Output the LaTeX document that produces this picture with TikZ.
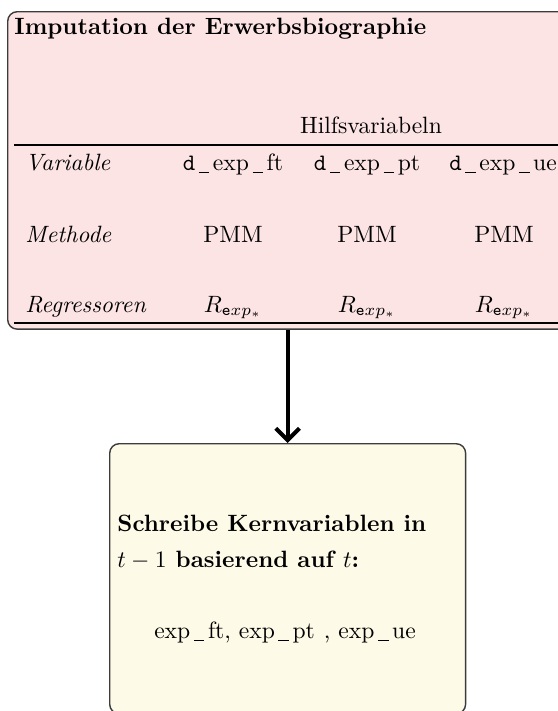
\documentclass[tikz,border=0pt]{standalone}
\usetikzlibrary{arrows.meta}
\definecolor{pinkfill}{RGB}{253,228,228}
\definecolor{creamfill}{RGB}{254,250,232}
\definecolor{boxline}{RGB}{60,60,60}
\newcommand\usc{\kern0.15em\rule[-0.25ex]{0.45em}{0.4pt}\kern0.15em}
\begin{document}
\begin{tikzpicture}[x=0.4237pt,y=-0.4237pt,
  panel/.style={draw=boxline,line width=0.6pt,rounded corners=4pt,inner sep=0pt,anchor=north west},
  lbl/.style={inner sep=0pt,anchor=base west},
  cell/.style={inner sep=0pt,anchor=base},
  rulel/.style={line width=0.5pt},
  flow/.style={line width=1.7pt,-{Straight Barb[length=5pt,width=10pt]}}]
\useasboundingbox (0,0) rectangle (558,711);
\clip (0,0) rectangle (558,711);
\node[panel,fill=pinkfill,minimum width=268.2pt,minimum height=134.5pt] (top) at (7,11) {};
\node[panel,fill=creamfill,minimum width=150.8pt,minimum height=114.4pt] (bot) at (109,443) {};
\draw[flow] (top.south -| bot.north) -- (bot.north);
\node[lbl,font=\bfseries] (title) at (14,35) {Imputation der Erwerbsbiographie};
\node[cell] (hilf) at (371,133) {Hilfsvariabeln};
\draw[rulel] (14,145) -- (640,145);
\node[lbl,font=\itshape] (rv) at (25,170) {Variable};
\node[cell] (v1) at (233,170) {\texttt{d}\usc exp\usc ft};
\node[cell] (v2) at (367,170) {\texttt{d}\usc exp\usc pt};
\node[cell] (v3) at (503,170) {\texttt{d}\usc exp\usc ue};
\node[lbl,font=\itshape] (rm) at (25,242) {Methode};
\node[cell] (m1) at (233,242) {PMM};
\node[cell] (m2) at (367,242) {PMM};
\node[cell] (m3) at (504,242) {PMM};
\node[lbl,font=\itshape] (rr) at (25,312) {Regressoren};
\node[cell] (r1) at (233,312) {$R_{\mathtt{e}xp_*}$};
\node[cell] (r2) at (367,312) {$R_{\mathtt{e}xp_*}$};
\node[cell] (r3) at (504,312) {$R_{\mathtt{e}xp_*}$};
\draw[rulel] (14,323) -- (640,323);
\node[lbl,font=\bfseries] (s1) at (117,531) {Schreibe Kernvariablen in};
\node[lbl,font=\bfseries] (s2) at (117,567) {$t-1$ basierend auf $t$:};
\node[cell] (s3) at (285,638) {exp\usc ft, exp\usc pt\hspace{0.5pt} , exp\usc ue};
\end{tikzpicture}
\end{document}
